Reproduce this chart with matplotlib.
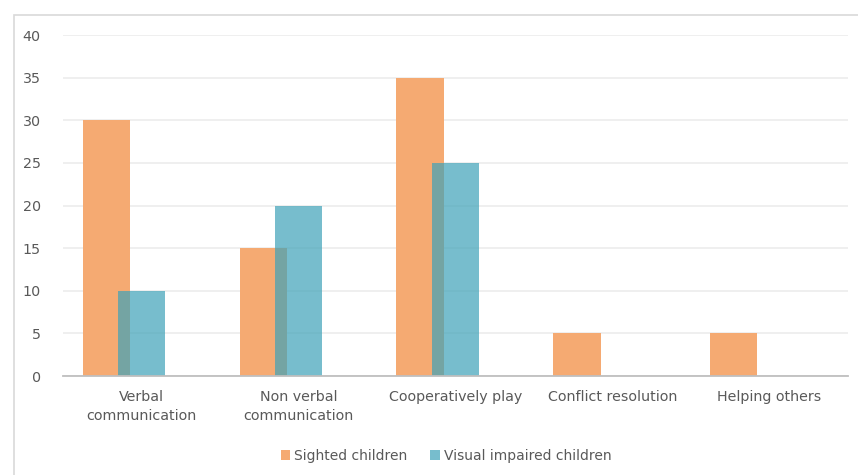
import numpy as np
import matplotlib.pyplot as plt
from matplotlib.patches import Rectangle

categories = ["Verbal\ncommunication", "Non verbal\ncommunication",
              "Cooperatively play", "Conflict resolution", "Helping others"]
sighted = [30, 15, 35, 5, 5]
impaired = [10, 20, 25, 0, 0]
yticks = [0, 5, 10, 15, 20, 25, 30, 35, 40]

plt.rcParams['font.family'] = ['DejaVu Sans']
text_col = '#595959'

fig = plt.figure(figsize=(8.58, 4.75), dpi=100)
ax = fig.add_axes([0.0734, 0.2084, 0.9146, 0.7176])

# light chart-area frame
fig.patches.append(Rectangle((14 / 858, -0.1), 1.2, 1.1 - 15 / 475, transform=fig.transFigure,
                             fill=False, edgecolor='#d9d9d9', linewidth=1.2, zorder=0))

x = np.arange(len(categories))
w = 0.30
ax.bar(x - 0.225, sighted, w, color='#F5AA72', linewidth=0,
       label='Sighted children', zorder=2)
# semi-transparent blue so the overlap darkens like the original
ax.bar(x, impaired, w, color=(62 / 255, 162 / 255, 184 / 255), alpha=0.7, linewidth=0,
       label='Visual impaired children', zorder=2.1)

ax.set_xlim(-0.5, len(categories) - 0.5)
ax.set_ylim(0, 40)
ax.set_yticks(yticks)
ax.set_xticks(x)
ax.set_xticklabels(categories, color=text_col, fontsize=10.3, linespacing=1.5)
ax.tick_params(axis='y', colors=text_col, labelsize=10.3, length=0, pad=16)
ax.tick_params(axis='x', length=0, pad=10)
ax.yaxis.grid(True, color='#ececec', linewidth=1.2, zorder=0)
ax.set_axisbelow(True)
for s in ['top', 'right', 'left']:
    ax.spines[s].set_visible(False)
ax.spines['bottom'].set_color('#bfbfbf')
ax.spines['bottom'].set_linewidth(1.3)
ax.spines['bottom'].set_zorder(3)

fig.legend(loc='center', bbox_to_anchor=(446 / 858, 1 - 456 / 475), ncol=2, frameon=False,
           fontsize=10, labelcolor=text_col, handlelength=0.7, handleheight=0.7,
           handletextpad=0.3, columnspacing=1.6)

fig.savefig('out.png', dpi=100)
